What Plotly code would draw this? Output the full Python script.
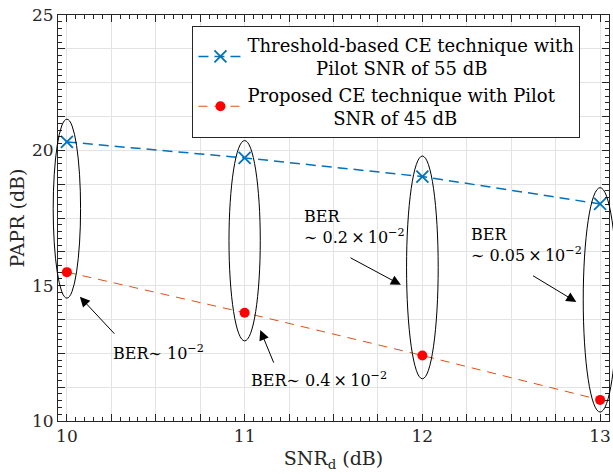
import plotly.graph_objects as go

# SNR_d values (dB) and PAPR values (dB) for each channel-estimation scheme
snr_d = [10, 11, 12, 13]
papr_threshold = [20.31, 19.72, 19.03, 18.02]
papr_proposed = [15.50, 14.00, 12.42, 10.78]

NB = "\u00a0"
name_threshold = "Threshold-based CE technique with<br>" + NB * 12 + "Pilot SNR of 55 dB"
name_proposed = "Proposed CE technique with Pilot<br>" + NB * 15 + "SNR of 45 dB"

# vertical extent (dB) and half-width (dB of SNR) of the group ellipses at each SNR_d
ellipse_low = [14.54, 12.96, 11.56, 10.33]
ellipse_high = [21.15, 20.36, 19.79, 18.62]
ellipse_halfwidth = [0.077, 0.088, 0.089, 0.095]

TS = "\u2009"  # thin space around the multiplication sign
# BER notes: text, text anchor, arrow tail, arrow head
ber_notes = [
    dict(text="BER\u223c 10<sup>\u22122</sup>", x=10.513, y=12.53, xanchor="center",
         tail=(10.275, 13.17), head=(10.073, 14.59)),
    dict(text="BER\u223c 0.4" + TS + "\u00d7" + TS + "10<sup>\u22122</sup>", x=11.416, y=11.52,
         xanchor="center", tail=(11.167, 12.10), head=(11.088, 13.36)),
    dict(text="BER<br>\u223c 0.2" + TS + "\u00d7" + TS + "10<sup>\u22122</sup>", x=11.324, y=17.15,
         xanchor="left", tail=(11.587, 16.06), head=(11.879, 15.03)),
    dict(text="BER<br>\u223c 0.05" + TS + "\u00d7" + TS + "10<sup>\u22122</sup>", x=12.260, y=16.49,
         xanchor="left", tail=(12.614, 15.40), head=(12.866, 14.40)),
]

x_range = [9.95, 13.05]
y_range = [10, 25]

x_tickvals = [10 + 0.25 * i for i in range(13)]
x_ticktext = [str(int(v)) if abs(v - round(v)) < 1e-9 else "" for v in x_tickvals]
y_tickvals = [10 + 1.25 * i for i in range(13)]
y_ticktext = [str(int(v)) if abs(v % 5) < 1e-9 else "" for v in y_tickvals]

FONT = "DejaVu Serif"
AX = "#262626"

fig = go.Figure()
fig.add_trace(go.Scatter(
    x=snr_d, y=papr_threshold, mode="lines+markers", name=name_threshold,
    line=dict(color="#0072BD", width=1.5, dash="10px,6px"),
    marker=dict(symbol="x-thin", size=12, line=dict(color="#0072BD", width=1.8)),
))
fig.add_trace(go.Scatter(
    x=snr_d, y=papr_proposed, mode="lines+markers", name=name_proposed,
    line=dict(color="#D95319", width=1, dash="9px,7px"),
    marker=dict(symbol="circle", size=10, color="#FF0000"),
))


def to_paper_x(v):
    return (v - x_range[0]) / (x_range[1] - x_range[0])


for xc, lo, hi, hw in zip(snr_d, ellipse_low, ellipse_high, ellipse_halfwidth):
    fig.add_shape(type="circle", xref="paper", yref="y",
                  x0=to_paper_x(xc - hw), x1=to_paper_x(xc + hw), y0=lo, y1=hi,
                  line=dict(color="black", width=1), layer="above")

for n in ber_notes:
    fig.add_annotation(x=n["x"], y=n["y"], xref="x", yref="y", text=n["text"],
                       showarrow=False, xanchor=n["xanchor"], yanchor="middle", align="left",
                       font=dict(family=FONT, size=16, color="black"))
    fig.add_annotation(x=n["head"][0], y=n["head"][1], ax=n["tail"][0], ay=n["tail"][1],
                       xref="x", yref="y", axref="x", ayref="y", text="",
                       showarrow=True, arrowhead=2, arrowsize=2, arrowwidth=1,
                       arrowcolor="black", standoff=0, startstandoff=0)

axis_common = dict(
    showline=True, linecolor=AX, linewidth=1, mirror="ticks",
    ticks="inside", ticklen=7, tickcolor=AX, tickwidth=1,
    showgrid=True, gridcolor="#e3e3e3", gridwidth=1, zeroline=False,
    tickfont=dict(family=FONT, size=17, color=AX),
)

fig.update_xaxes(
    range=x_range, tickmode="array", tickvals=x_tickvals, ticktext=x_ticktext,
    minor=dict(dtick=0.05, tick0=10, ticks="inside", ticklen=4, tickcolor=AX, showgrid=False),
    title=dict(text="SNR<sub>d</sub> (dB)", font=dict(family=FONT, size=19, color=AX), standoff=6),
    **axis_common,
)
fig.update_yaxes(
    range=y_range, tickmode="array", tickvals=y_tickvals, ticktext=y_ticktext,
    minor=dict(dtick=0.25, tick0=10, ticks="inside", ticklen=4, tickcolor=AX, showgrid=False),
    title=dict(text="PAPR (dB)", font=dict(family=FONT, size=19, color=AX), standoff=2),
    **axis_common,
)

fig.update_layout(
    width=613, height=474,
    margin=dict(l=58, r=2, t=15, b=53),
    paper_bgcolor="white", plot_bgcolor="white",
    showlegend=True,
    legend=dict(x=0.244, y=0.974, xanchor="left", yanchor="top",
                bgcolor="white", bordercolor=AX, borderwidth=1,
                font=dict(family=FONT, size=18, color="black"),
                itemwidth=44, tracegroupgap=0),
)

fig.write_html("out.html")
